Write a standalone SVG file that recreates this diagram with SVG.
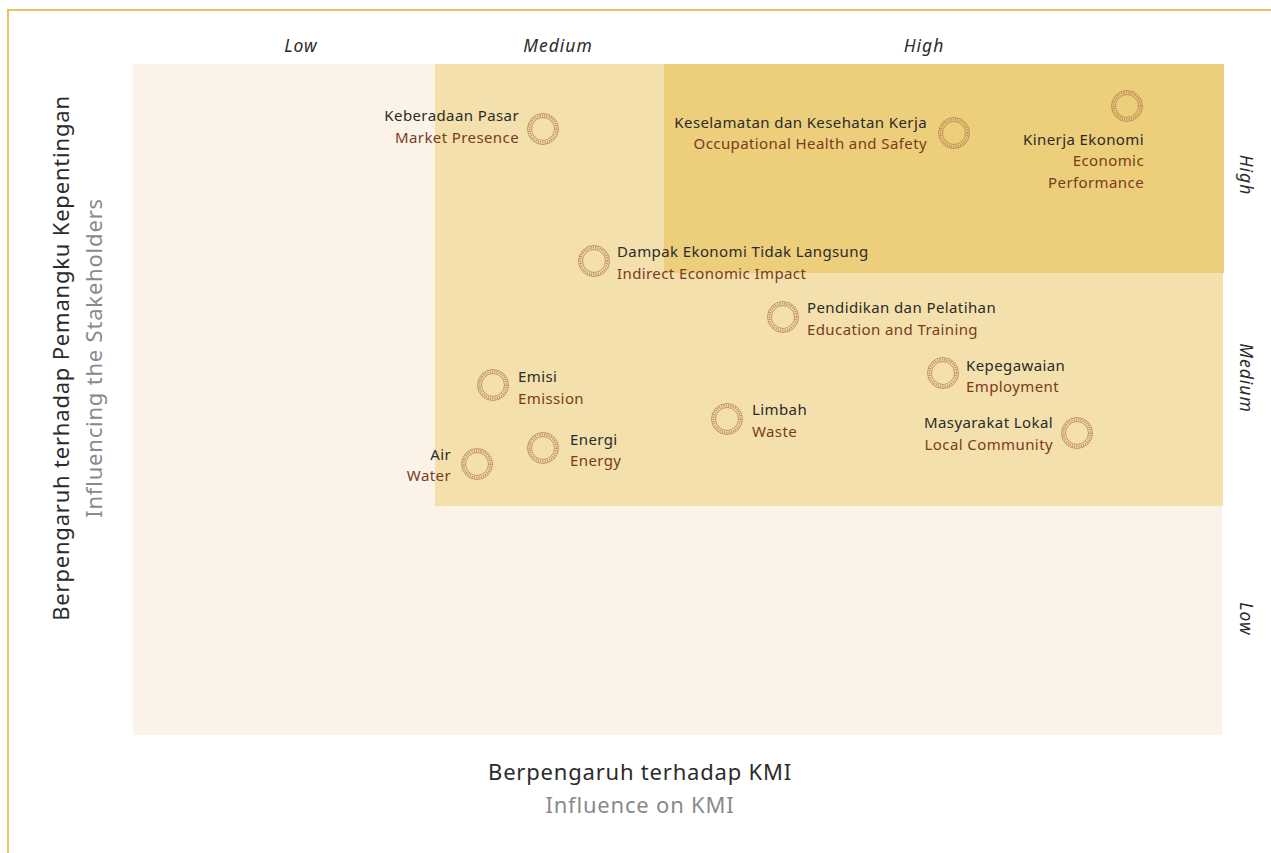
<svg xmlns="http://www.w3.org/2000/svg" width="1271" height="853" viewBox="0 0 1271 853">
<style>
.t{font-family:"Noto Sans",sans-serif;font-size:15px;letter-spacing:0.4px;fill:#2b2b2b}
.b{font-family:"Noto Sans",sans-serif;font-size:15px;letter-spacing:0.4px;fill:#7a3b1e}
.e{text-anchor:end}
.ax{font-family:"Noto Sans",sans-serif;font-size:17.5px;letter-spacing:1px;font-style:italic;fill:#2b2b2b;text-anchor:middle}
.ti{font-family:"Noto Sans",sans-serif;font-size:22px;letter-spacing:0.8px;fill:#2b2b2b;text-anchor:middle}
.tg{font-family:"Noto Sans",sans-serif;font-size:22px;letter-spacing:0.8px;fill:#8a8a8a;text-anchor:middle}
</style>
<defs>
<g id="ring" fill="none" stroke="#b5804f">
<circle r="15.5" stroke-width="0.8"/>
<circle r="11.5" stroke-width="0.8"/>
<circle r="13.5" stroke-width="2" stroke-dasharray="1 1.3"/>
</g>
</defs>
<rect width="1271" height="853" fill="#ffffff"/>
<g id="frame" fill="none" stroke="#e8c36a" stroke-width="2">
<path d="M8 853 V10 H1271"/>
</g>
<g id="zones">
<rect x="133" y="64" width="1089" height="671" fill="#fbf3e7"/>
<rect x="435" y="64" width="788" height="442" fill="#f3e0ac"/>
<rect x="664" y="64" width="560" height="209" fill="#ecce7b"/>
</g>
<g id="axis-labels">
<text class="ax" x="301" y="52">Low</text>
<text class="ax" x="558" y="52">Medium</text>
<text class="ax" x="924" y="52">High</text>
<text class="ax" transform="translate(1240 175) rotate(90)">High</text>
<text class="ax" transform="translate(1240 378) rotate(90)">Medium</text>
<text class="ax" transform="translate(1240 619) rotate(90)">Low</text>
</g>
<g id="y-title">
<text class="ti" transform="translate(69 358) rotate(-90)">Berpengaruh terhadap Pemangku Kepentingan</text>
<text class="tg" transform="translate(102 358) rotate(-90)">Influencing the Stakeholders</text>
</g>
<g id="x-title">
<text class="ti" x="640" y="780">Berpengaruh terhadap KMI</text>
<text class="tg" x="640" y="813">Influence on KMI</text>
</g>
<g id="connectors"></g>
<g id="n-market">
<use href="#ring" x="543" y="129"/>
<text class="t e" x="519" y="121">Keberadaan Pasar</text>
<text class="b e" x="519" y="143">Market Presence</text>
</g>
<g id="n-ohs">
<use href="#ring" x="954" y="133"/>
<text class="t e" x="927" y="128">Keselamatan dan Kesehatan Kerja</text>
<text class="b e" x="927" y="149">Occupational Health and Safety</text>
</g>
<g id="n-econ">
<use href="#ring" x="1127" y="106"/>
<text class="t e" x="1144" y="145">Kinerja Ekonomi</text>
<text class="b e" x="1144" y="166">Economic</text>
<text class="b e" x="1144" y="188">Performance</text>
</g>
<g id="n-indirect">
<use href="#ring" x="594" y="261"/>
<text class="t" x="617" y="257">Dampak Ekonomi Tidak Langsung</text>
<text class="b" x="617" y="279">Indirect Economic Impact</text>
</g>
<g id="n-edu">
<use href="#ring" x="783" y="317"/>
<text class="t" x="807" y="313">Pendidikan dan Pelatihan</text>
<text class="b" x="807" y="335">Education and Training</text>
</g>
<g id="n-emission">
<use href="#ring" x="493" y="385"/>
<text class="t" x="518" y="382">Emisi</text>
<text class="b" x="518" y="404">Emission</text>
</g>
<g id="n-employment">
<use href="#ring" x="943" y="373"/>
<text class="t" x="966" y="371">Kepegawaian</text>
<text class="b" x="966" y="392">Employment</text>
</g>
<g id="n-waste">
<use href="#ring" x="727" y="419"/>
<text class="t" x="752" y="415">Limbah</text>
<text class="b" x="752" y="437">Waste</text>
</g>
<g id="n-community">
<use href="#ring" x="1077" y="433"/>
<text class="t e" x="1053" y="428">Masyarakat Lokal</text>
<text class="b e" x="1053" y="450">Local Community</text>
</g>
<g id="n-water">
<use href="#ring" x="477" y="464"/>
<text class="t e" x="451" y="460">Air</text>
<text class="b e" x="451" y="481">Water</text>
</g>
<g id="n-energy">
<use href="#ring" x="543" y="448"/>
<text class="t" x="570" y="445">Energi</text>
<text class="b" x="570" y="466">Energy</text>
</g>
</svg>
